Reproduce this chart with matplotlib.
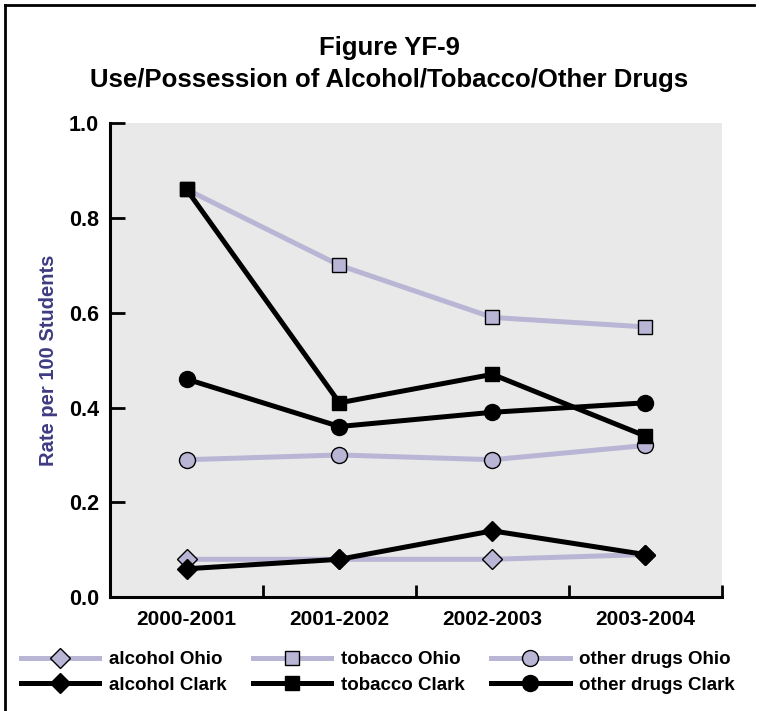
import matplotlib
matplotlib.use("Agg")
import matplotlib.pyplot as plt
from matplotlib.lines import Line2D

plt.rcParams['font.family'] = ['Liberation Sans', 'DejaVu Sans']
plt.rcParams['font.weight'] = 'bold'

years = ["2000-2001", "2001-2002", "2002-2003", "2003-2004"]
alcohol_ohio = [0.08, 0.08, 0.08, 0.09]
alcohol_clark = [0.06, 0.08, 0.14, 0.09]
tobacco_ohio = [0.86, 0.70, 0.59, 0.57]
tobacco_clark = [0.86, 0.41, 0.47, 0.34]
drugs_ohio = [0.29, 0.30, 0.29, 0.32]
drugs_clark = [0.46, 0.36, 0.39, 0.41]
yticks = [0.0, 0.2, 0.4, 0.6, 0.8, 1.0]

OHIO = '#b9b5d5'
CLARK = '#000000'

fig = plt.figure(figsize=(7.59, 7.11), dpi=100)
ax = fig.add_axes([0.145, 0.160, 0.806, 0.667])
ax.set_facecolor('#e9e9e9')

x = list(range(len(years)))
lw = 3.6
series = [
    (alcohol_ohio, OHIO, 'D', 10.5, OHIO, 'alcohol Ohio'),
    (alcohol_clark, CLARK, 'D', 10.5, CLARK, 'alcohol Clark'),
    (tobacco_ohio, OHIO, 's', 10, OHIO, 'tobacco Ohio'),
    (tobacco_clark, CLARK, 's', 10, CLARK, 'tobacco Clark'),
    (drugs_ohio, OHIO, 'o', 11.5, OHIO, 'other drugs Ohio'),
    (drugs_clark, CLARK, 'o', 11.5, CLARK, 'other drugs Clark'),
]
handles = {}
for vals, col, m, ms, fc, lab in series:
    z = 2 if col == OHIO else 3
    h, = ax.plot(x, vals, color=col, lw=lw, marker=m, ms=ms, mfc=fc,
                 mec='black', mew=1.0, label=lab, clip_on=False, zorder=z)
    handles[lab] = h

ax.set_xlim(-0.5, 3.5)
ax.set_ylim(0, 1.0)
ax.set_yticks(yticks)
ax.set_yticklabels([f"{v:.1f}" for v in yticks], fontsize=15.5, fontweight='bold')
ax.set_xticks(x)
ax.set_xticklabels(years, fontsize=15, fontweight='bold')
ax.tick_params(axis='x', which='major', length=0, pad=9)
ax.set_xticks([0.5, 1.5, 2.5, 3.5], minor=True)
ax.tick_params(axis='x', which='minor', direction='in', length=9, width=2)
ax.tick_params(axis='y', direction='in', length=11, width=2, pad=8)
for s in ['top', 'right']:
    ax.spines[s].set_visible(False)
for s in ['left', 'bottom']:
    ax.spines[s].set_linewidth(2.2)

ax.set_ylabel("Rate per 100 Students", color='#3f3b82', fontsize=14.5,
              fontweight='bold', labelpad=8)

fig.text(0.5125, 0.932, "Figure YF-9", ha='center', va='center',
         fontsize=18.5, fontweight='bold')
fig.text(0.5125, 0.887, "Use/Possession of Alcohol/Tobacco/Other Drugs",
         ha='center', va='center', fontsize=18.5, fontweight='bold')

order = ['alcohol Ohio', 'alcohol Clark', 'tobacco Ohio', 'tobacco Clark',
         'other drugs Ohio', 'other drugs Clark']
leg = fig.legend([handles[k] for k in order], order, ncol=3,
                 loc='upper left', bbox_to_anchor=(0.005, 0.108),
                 frameon=False, handlelength=4.2, handletextpad=0.5,
                 columnspacing=1.4, labelspacing=0.45,
                 prop={'weight': 'bold', 'size': 13.5})

# outer frame lines (left and top)
fig.add_artist(Line2D([0.007, 0.007], [0.0, 0.993], color='black', lw=2,
                      transform=fig.transFigure))
fig.add_artist(Line2D([0.007, 0.993], [0.993, 0.993], color='black', lw=2,
                      transform=fig.transFigure))

fig.savefig("out.png", dpi=100)
